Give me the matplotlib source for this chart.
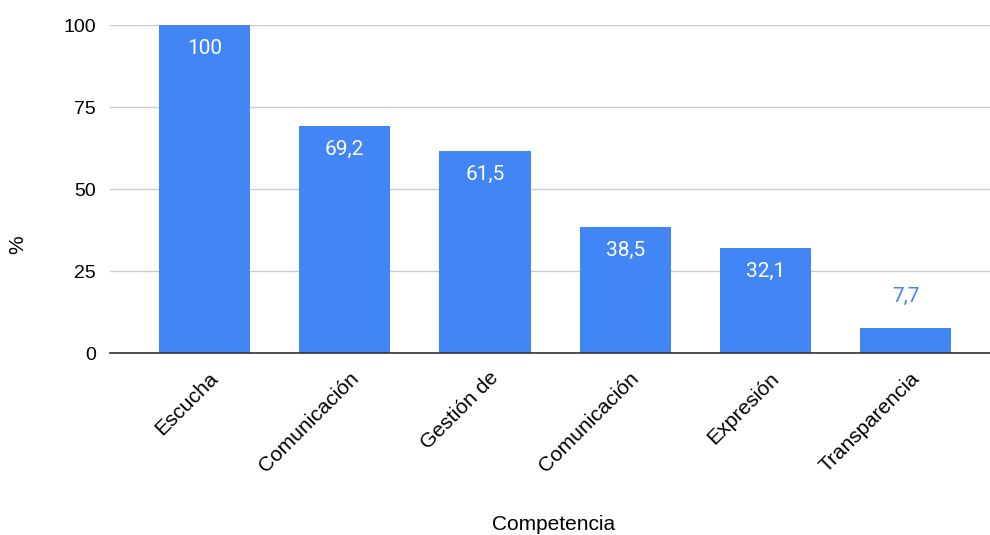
import matplotlib
matplotlib.use("Agg")
import matplotlib.pyplot as plt
from matplotlib.transforms import ScaledTranslation

categories = ["Escucha", "Comunicación", "Gestión de", "Comunicación", "Expresión", "Transparencia"]
values = [100, 69.2, 61.5, 38.5, 32.1, 7.7]
labels = ["100", "69,2", "61,5", "38,5", "32,1", "7,7"]
yticks = [0, 25, 50, 75, 100]

color = "#4285F4"
fs = 14
fs2 = 15
fig = plt.figure(figsize=(9.9, 5.35), dpi=100)
ax = fig.add_axes([0.111, 0.340, 0.889, 0.613])
x = list(range(len(categories)))
ax.bar(x, values, width=0.65, color=color, zorder=3)
ax.set_xlim(-0.674, 5.60)
ax.set_ylim(0, 100)
ax.set_yticks(yticks)
ax.set_yticklabels([str(t) for t in yticks], fontsize=fs, family="Liberation Sans")
ax.grid(axis="y", color="#cccccc", linewidth=1, zorder=0)
for s in ["top", "right", "left"]:
    ax.spines[s].set_visible(False)
ax.spines["bottom"].set_color("#333333")
ax.spines["bottom"].set_linewidth(1.2)
ax.spines["bottom"].set_zorder(4)
ax.tick_params(axis="y", length=0, pad=10)
ax.tick_params(axis="x", length=0, pad=6)
ax.set_xticks(x)
ax.set_xticklabels(categories, rotation=45, ha="right", rotation_mode="anchor",
                   fontsize=fs2, family="Liberation Sans")
off = ScaledTranslation(4 / 100, -7 / 100, fig.dpi_scale_trans)
for t in ax.get_xticklabels():
    t.set_transform(t.get_transform() + off)
for xi, v, lab in zip(x, values, labels):
    if v > 15:
        ax.annotate(lab, (xi, v), xytext=(0, -10), textcoords="offset points",
                    ha="center", va="top", color="white", fontsize=fs2, family="Roboto")
    else:
        ax.annotate(lab, (xi, v), xytext=(0, 16), textcoords="offset points",
                    ha="center", va="bottom", color=color, fontsize=fs2, family="Roboto")
fig.text(554 / 990, 1 - 525 / 535, "Competencia", fontsize=fs2, family="Liberation Sans",
         ha="center", va="center")
fig.text(18 / 990, 1 - 245 / 535, "%", fontsize=fs2, family="Liberation Sans",
         ha="center", va="center", rotation=90)
fig.savefig("out.png", dpi=100)
